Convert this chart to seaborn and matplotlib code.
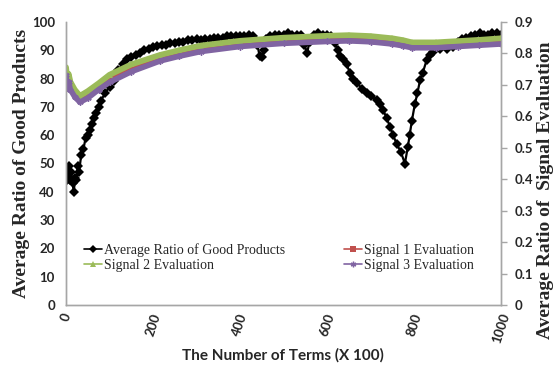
import matplotlib
matplotlib.use("Agg")
import matplotlib.pyplot as plt
import seaborn as sns
import numpy as np
import pandas as pd

# ---------------- data ----------------
good_terms = [0, 3, 6, 9, 12, 15, 18, 21, 24, 27, 30, 35, 40, 45, 50, 55, 60, 65, 70, 75,
              80, 90, 100, 110, 120, 130, 140, 150, 160, 170, 180, 190, 200, 210, 220, 230,
              240, 250, 260, 270, 280, 290, 300, 310, 320, 330, 340, 350, 360, 370, 380, 390,
              400, 410, 420, 430, 440, 445, 450, 455, 460, 470, 480, 490, 500, 510, 520, 530,
              540, 548, 554, 560, 570, 580, 590, 600, 610, 618, 625, 630, 637, 645, 653, 660,
              669, 680, 691, 700, 714, 722, 729, 737, 745, 752, 760, 770, 779, 786, 790, 795,
              802, 808, 814, 820, 829, 837, 844, 860, 875, 890, 900, 910, 920, 930, 940, 952,
              960, 970, 980, 990, 1000]
good_ratio = [48, 44, 49, 44, 47, 43, 40, 45, 44, 49, 47, 53, 55, 59, 60, 62, 64, 66, 68, 70,
              72, 75, 77, 79, 83, 85, 87, 87.5, 88.5, 89, 90, 90.5, 91, 91.5, 92, 92,
              92.5, 92.5, 93, 93, 93.5, 93.5, 94, 93.5, 94, 94, 94.5, 94.5, 94.5, 95, 95, 95,
              95, 95, 95.5, 95, 92, 88, 87.5, 90, 94, 95, 95.5, 95.5, 95.5, 96, 95.5, 95.5,
              95.5, 92, 89, 93, 95.5, 96, 95.5, 95.5, 95, 92.5, 90, 88, 87, 85, 82, 80,
              78.5, 76.5, 75, 74, 72.5, 71, 69, 66, 63, 60, 57, 54, 50, 56, 60, 65,
              71, 75, 79.5, 82, 86.5, 88.5, 89.5, 90.5, 90.5, 91, 93, 94, 94.5, 95, 95.5, 96,
              95.5, 95.5, 96, 96, 95.5]

sig_terms = [0, 3, 6, 10, 20, 32, 50, 75, 100, 150, 216, 260, 310, 400, 500, 600, 650,
             700, 750, 775, 795, 850, 900, 950, 1000]
signal2 = [0.756, 0.72, 0.735, 0.71, 0.685, 0.665, 0.68, 0.705, 0.732, 0.765, 0.795, 0.81,
           0.825, 0.840, 0.850, 0.856, 0.858, 0.855, 0.848, 0.842, 0.835, 0.835, 0.839,
           0.843, 0.848]
signal1 = [0.74, 0.70, 0.72, 0.695, 0.672, 0.655, 0.668, 0.695, 0.722, 0.755, 0.786, 0.801,
           0.816, 0.831, 0.841, 0.847, 0.849, 0.846, 0.839, 0.833, 0.826, 0.826, 0.830,
           0.834, 0.839]
signal3 = [0.73, 0.69, 0.71, 0.685, 0.662, 0.645, 0.658, 0.685, 0.708, 0.742, 0.776, 0.791,
           0.806, 0.822, 0.832, 0.838, 0.840, 0.837, 0.830, 0.824, 0.818, 0.818, 0.822,
           0.826, 0.830]

x_ticks = [0, 200, 400, 600, 800, 1000]
y_left_ticks = [0, 10, 20, 30, 40, 50, 60, 70, 80, 90, 100]
y_right_ticks = [0, 0.1, 0.2, 0.3, 0.4, 0.5, 0.6, 0.7, 0.8, 0.9]

# ---------------- styling ----------------
sns.set_style("white")
plt.rcParams['font.family'] = ['Lato', 'DejaVu Sans']

fig = plt.figure(figsize=(5.54, 3.69), dpi=100)
ax = fig.add_axes([66 / 554, 1 - 305 / 369, (501 - 66) / 554, (305 - 22) / 369])
ax2 = ax.twinx()

df_good = pd.DataFrame({"t": good_terms, "v": good_ratio})
sns.lineplot(data=df_good, x="t", y="v", ax=ax, color="black", marker="D",
             markersize=5, markeredgewidth=0, linewidth=1.6,
             label="Average Ratio of Good Products", legend=False)

df_sig = pd.DataFrame({"t": sig_terms, "s1": signal1, "s2": signal2, "s3": signal3})
sns.lineplot(data=df_sig, x="t", y="s1", ax=ax2, color="#C0504D", marker="s",
             markersize=4, markeredgewidth=0, linewidth=4, legend=False,
             label="Signal 1 Evaluation")
sns.lineplot(data=df_sig, x="t", y="s2", ax=ax2, color="#9BBB59", marker="^",
             markersize=4, markeredgewidth=0, linewidth=4.2, legend=False,
             label="Signal 2 Evaluation")
sns.lineplot(data=df_sig, x="t", y="s3", ax=ax2, color="#8064A2", marker=(6, 2, 0),
             markersize=4.5, markeredgewidth=1, markeredgecolor="#8064A2",
             linewidth=4, legend=False, label="Signal 3 Evaluation")

ax.set_xlim(0, 1000)
ax.set_ylim(0, 100)
ax2.set_ylim(0, 0.9)

spine_col = "#A6A6A6"
for a in (ax, ax2):
    for s in a.spines.values():
        s.set_color(spine_col)
        s.set_linewidth(1.0)
    a.spines['top'].set_visible(False)

ax.set_xticks(x_ticks)
ax.set_xticklabels([str(v) for v in x_ticks], rotation=72, fontweight='bold', fontsize=9.5)
ax.set_yticks(y_left_ticks)
ax.set_yticklabels([str(v) for v in y_left_ticks], fontweight='bold', fontsize=9.5)
ax.tick_params(axis='both', length=0, pad=8)
ax.tick_params(axis='x', pad=5)

ax2.set_yticks(y_right_ticks)
ax2.set_yticklabels([("0" if v == 0 else f"{v:.1f}") for v in y_right_ticks],
                    fontweight='bold', fontsize=9.5)
ax2.tick_params(axis='y', length=4, width=1, color=spine_col, direction='out', pad=6)

ax.set_xlabel("")
ax.set_ylabel("")
ax2.set_ylabel("")

serif = ['Liberation Serif', 'DejaVu Serif']
fig.text(22 / 554, 1 - 163 / 369, "Average Ratio of Good Products", rotation=90,
         ha='center', va='center', fontsize=14, fontweight='bold', family=serif)
fig.text(545 / 554, 1 - 190 / 369, "Average Ratio of  Signal Evaluation", rotation=90,
         ha='center', va='center', fontsize=14, fontweight='bold', family=serif)
fig.text(283 / 554, 1 - 355 / 369, "The Number of Terms (X 100)", ha='center',
         va='center', fontsize=11, fontweight='bold')

h1, l1 = ax.get_legend_handles_labels()
h2, l2 = ax2.get_legend_handles_labels()
handles = [h1[0], h2[1], h2[0], h2[2]]
labels = [l1[0], l2[1], l2[0], l2[2]]
leg = ax.legend(handles, labels, ncol=2, frameon=False,
                loc='upper left', bbox_to_anchor=(84 / 554, 1 - 243 / 369),
                bbox_transform=fig.transFigure, borderpad=0, borderaxespad=0,
                handlelength=1.3, handletextpad=0.15, columnspacing=4.2,
                labelspacing=0.15, prop={'family': serif, 'size': 10})
for lh in leg.get_lines():
    lh.set_linewidth(1.2)
    lh.set_markersize(4)

fig.savefig("out.png", dpi=100)
